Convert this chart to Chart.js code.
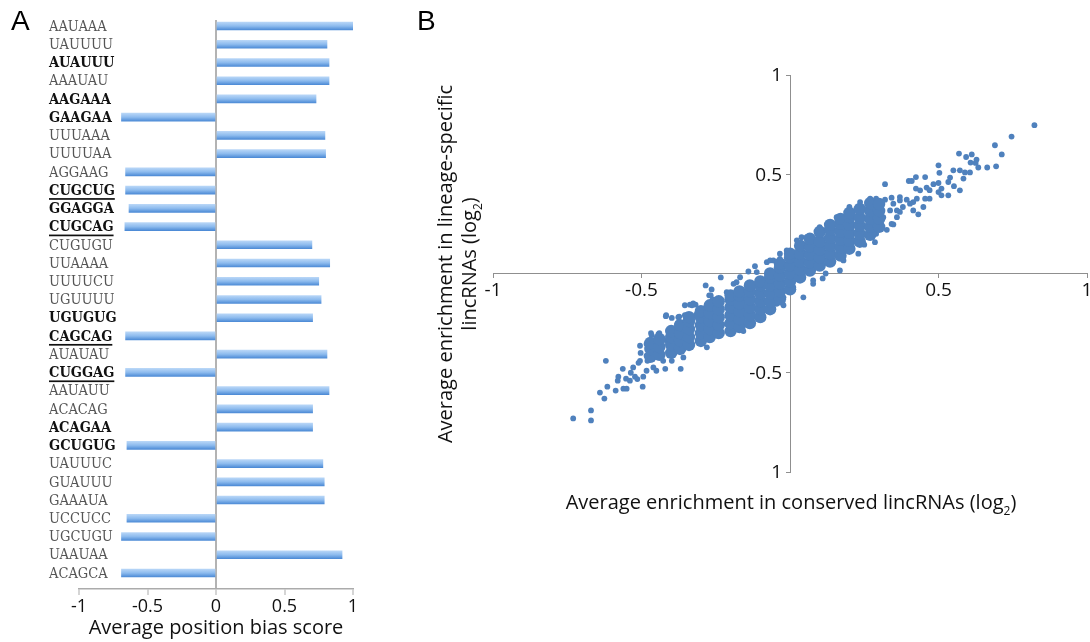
<!DOCTYPE html>
<html lang="en">
<head>
<meta charset="utf-8">
<title>Motif position bias and lincRNA enrichment</title>
<script src="https://cdn.jsdelivr.net/npm/chart.js@4.4.1/dist/chart.umd.min.js"></script>
<style>
  html, body { margin: 0; padding: 0; background: #fff; overflow: hidden; }
  #page { position: relative; width: 1090px; height: 642px; overflow: hidden; }
  canvas { position: absolute; top: 0; }
  #biasChart { left: 0; }
  #enrichChart { left: 400px; }
  .tag { position: absolute; top: 6px; font: 28px "Liberation Sans", Arial, sans-serif; line-height: 30px; color: #000; }
</style>
</head>
<body>
<div id="page">
  <canvas id="biasChart" width="390" height="642"></canvas>
  <canvas id="enrichChart" width="700" height="642"></canvas>
  <div class="tag" style="left: 11px;">A</div>
  <div class="tag" style="left: 417px;">B</div>
</div>
<script>
// Panel A: average position bias per hexamer motif (top to bottom)
const motifs = [
  'AAUAAA', 'UAUUUU', 'AUAUUU', 'AAAUAU', 'AAGAAA', 'GAAGAA', 'UUUAAA', 'UUUUAA',
  'AGGAAG', 'CUGCUG', 'GGAGGA', 'CUGCAG', 'CUGUGU', 'UUAAAA', 'UUUUCU', 'UGUUUU',
  'UGUGUG', 'CAGCAG', 'AUAUAU', 'CUGGAG', 'AAUAUU', 'ACACAG', 'ACAGAA', 'GCUGUG',
  'UAUUUC', 'GUAUUU', 'GAAAUA', 'UCCUCC', 'UGCUGU', 'UAAUAA', 'ACAGCA',
];
const biasScores = [
  1.03, 0.81, 0.825, 0.825, 0.73, -0.69, 0.795, 0.80,
  -0.66, -0.66, -0.635, -0.665, 0.70, 0.83, 0.75, 0.767,
  0.705, -0.66, 0.81, -0.66, 0.825, 0.705, 0.705, -0.65,
  0.78, 0.79, 0.79, -0.65, -0.69, 0.92, -0.69,
];
const boldMotifs = ['AUAUUU', 'AAGAAA', 'GAAGAA', 'CUGCUG', 'GGAGGA', 'CUGCAG', 'UGUGUG', 'CAGCAG', 'CUGGAG', 'ACAGAA', 'GCUGUG'];
const underlinedMotifs = ['CUGCUG', 'CUGCAG', 'CAGCAG', 'CUGGAG'];
const biasTicks = [-1, -0.5, 0, 0.5, 1];
const biasTickLabels = ['-1', '-0.5', '0', '0.5', '1'];

// Panel B: conserved (x) vs lineage-specific (y) enrichment, log2
const enrichTicks = [-1, -0.5, 0, 0.5, 1];
const conservedTickLabels = ['-1', '-0.5', '', '0.5', '1'];
const lineageTickLabels = ['1', '-0.5', '', '0.5', '1'];

// dense middle of the cloud
const coreCloud = [
  [-0.47, -0.42], [-0.47, -0.38], [-0.47, -0.35],
  [-0.44, -0.41], [-0.44, -0.37], [-0.44, -0.33],
  [-0.40, -0.40], [-0.40, -0.36], [-0.40, -0.32], [-0.40, -0.29],
  [-0.37, -0.38], [-0.37, -0.34], [-0.37, -0.30], [-0.37, -0.26],
  [-0.34, -0.36], [-0.34, -0.32], [-0.34, -0.28], [-0.34, -0.24], [-0.34, -0.22],
  [-0.30, -0.34], [-0.30, -0.30], [-0.30, -0.26], [-0.30, -0.22], [-0.30, -0.19],
  [-0.27, -0.32], [-0.27, -0.28], [-0.27, -0.24], [-0.27, -0.20], [-0.27, -0.16],
  [-0.24, -0.30], [-0.24, -0.26], [-0.24, -0.22], [-0.24, -0.18], [-0.24, -0.14],
  [-0.20, -0.29], [-0.20, -0.25], [-0.20, -0.21], [-0.20, -0.17], [-0.20, -0.13], [-0.20, -0.11],
  [-0.17, -0.27], [-0.17, -0.23], [-0.17, -0.19], [-0.17, -0.15], [-0.17, -0.11], [-0.17, -0.09],
  [-0.135, -0.25], [-0.135, -0.21], [-0.135, -0.17], [-0.135, -0.13], [-0.135, -0.09], [-0.135, -0.06],
  [-0.10, -0.22], [-0.10, -0.18], [-0.10, -0.14], [-0.10, -0.10], [-0.10, -0.06], [-0.10, -0.04],
  [-0.067, -0.18], [-0.067, -0.14], [-0.067, -0.10], [-0.067, -0.06], [-0.067, -0.02], [-0.067, 0.0],
  [-0.034, -0.13], [-0.034, -0.09], [-0.034, -0.05], [-0.034, -0.01], [-0.034, 0.03], [-0.034, 0.05],
  [0, -0.08], [0, -0.04], [0, 0.0], [0, 0.04], [0, 0.08], [0, 0.10],
  [0.034, -0.02], [0.034, 0.02], [0.034, 0.06], [0.034, 0.10], [0.034, 0.14],
  [0.067, 0.015], [0.067, 0.055], [0.067, 0.095], [0.067, 0.135], [0.067, 0.175],
  [0.10, 0.04], [0.10, 0.08], [0.10, 0.12], [0.10, 0.16], [0.10, 0.21],
  [0.135, 0.06], [0.135, 0.10], [0.135, 0.14], [0.135, 0.18], [0.135, 0.22], [0.135, 0.245],
  [0.17, 0.09], [0.17, 0.13], [0.17, 0.17], [0.17, 0.21], [0.17, 0.25], [0.17, 0.275],
  [0.20, 0.125], [0.20, 0.165], [0.20, 0.205], [0.20, 0.245], [0.20, 0.285], [0.20, 0.305],
  [0.235, 0.16], [0.235, 0.20], [0.235, 0.24], [0.235, 0.28], [0.235, 0.325],
  [0.27, 0.195], [0.27, 0.235], [0.27, 0.275], [0.27, 0.315], [0.27, 0.355],
  [0.30, 0.235], [0.30, 0.275], [0.30, 0.315], [0.30, 0.35],
];

// scattered points around the edges and in both tails
const sparseCloud = [
  [-0.73, -0.73], [-0.67, -0.74], [-0.67, -0.69], [-0.64, -0.60], [-0.625, -0.63], [-0.62, -0.44],
  [-0.615, -0.57], [-0.587, -0.59], [-0.58, -0.54], [-0.578, -0.52], [-0.563, -0.48], [-0.561, -0.58],
  [-0.55, -0.58], [-0.552, -0.53], [-0.536, -0.50], [-0.522, -0.52], [-0.51, -0.45], [-0.503, -0.40],
  [-0.496, -0.57], [-0.494, -0.52], [-0.48, -0.44], [-0.47, -0.39], [-0.468, -0.30], [-0.45, -0.49],
  [-0.44, -0.30], [-0.42, -0.48], [-0.417, -0.21], [-0.378, -0.25], [-0.376, -0.22], [-0.368, -0.48],
  [-0.354, -0.16], [-0.354, -0.21], [-0.337, -0.157], [-0.318, -0.157], [-0.284, -0.06], [-0.272, -0.11],
  [-0.233, -0.02], [-0.264, -0.08], [-0.267, -0.11], [-0.26, -0.13], [-0.33, -0.16], [-0.418, -0.215],
  [-0.373, -0.217], [-0.466, -0.31], [-0.14, 0.01], [-0.118, 0.037], [-0.078, 0.057], [-0.056, 0.066],
  [0.039, 0.183], [-0.18, -0.044], [-0.157, -0.29], [-0.112, -0.22], [-0.022, -0.16], [0.011, -0.08],
  [-0.326, -0.15], [-0.28, -0.187], [-0.398, -0.224], [-0.443, -0.305], [-0.483, -0.355], [-0.213, -0.094],
  [-0.19, -0.052], [-0.168, -0.019], [-0.112, 0.007], [-0.034, 0.074], [-0.011, 0.116], [0.023, 0.167],
  [-0.247, -0.288], [-0.213, -0.254], [-0.078, -0.187], [-0.045, -0.153], [-0.022, -0.12], [-0.28, -0.372],
  [-0.37, -0.38],
  [0.32, 0.45], [0.40, 0.466], [0.23, 0.10], [0.25, 0.145], [0.286, 0.158], [0.326, 0.22],
  [0.348, 0.247], [0.078, -0.052], [0.12, 0.0], [0.11, -0.025],
  [-0.067, 0.066], [-0.034, 0.10], [0.056, 0.183], [0.10, 0.234], [0.157, 0.284], [0.20, 0.335],
  [0.236, 0.36], [0.27, 0.377], [0.29, 0.377], [0.348, 0.352], [0.37, 0.368], [0.18, 0.066],
  [0.168, 0.015], [0.078, -0.035], [0.011, -0.069], [0.045, -0.12], [0.29, 0.20], [0.236, 0.15],
  [0.20, 0.116], [0.36, 0.284], [0.37, 0.31],
  [0.823, 0.747], [0.746, 0.69], [0.69, 0.646], [0.713, 0.60], [0.694, 0.54], [0.664, 0.534],
  [0.634, 0.534], [0.625, 0.557], [0.628, 0.574], [0.612, 0.60], [0.593, 0.587], [0.608, 0.559],
  [0.606, 0.509], [0.589, 0.509], [0.569, 0.604], [0.572, 0.52], [0.55, 0.52], [0.584, 0.478],
  [0.572, 0.419], [0.552, 0.44], [0.539, 0.483], [0.533, 0.461], [0.50, 0.545], [0.503, 0.507],
  [0.50, 0.456], [0.51, 0.428], [0.50, 0.41], [0.483, 0.45], [0.46, 0.433], [0.47, 0.42],
  [0.455, 0.486], [0.424, 0.486], [0.41, 0.466], [0.424, 0.428], [0.438, 0.419], [0.533, 0.394],
  [0.51, 0.394], [0.47, 0.377], [0.455, 0.377], [0.427, 0.377], [0.415, 0.36], [0.449, 0.335],
  [0.432, 0.298], [0.415, 0.318], [0.37, 0.385], [0.342, 0.382], [0.32, 0.372], [0.393, 0.372],
  [0.404, 0.352], [0.38, 0.335], [0.36, 0.318], [0.337, 0.318], [0.342, 0.25], [0.314, 0.284],
  [-0.528, -0.473], [-0.505, -0.44], [-0.483, -0.414], [-0.46, -0.42], [-0.449, -0.389], [-0.432, -0.347],
  [-0.415, -0.338], [-0.404, -0.372], [-0.427, -0.44], [-0.398, -0.44], [-0.46, -0.473], [-0.483, -0.49],
  [-0.514, -0.532], [-0.539, -0.54], [-0.505, -0.364], [-0.47, -0.338], [-0.365, -0.305], [-0.337, -0.237],
  [-0.314, -0.204], [-0.297, -0.195], [-0.359, -0.423], [-0.337, -0.372], [-0.303, -0.338],
];

const SANS = '"Open Sans", "Noto Sans", sans-serif';
const MOTIF_FONT = '14.5px "DejaVu Serif Condensed", "DejaVu Serif", serif';
const POINT_BLUE = '#4f81bd';
const MOTIF_RANGE = { min: -0.33, max: 30.88 };

document.addEventListener('DOMContentLoaded', () => {
  initBiasChart();
  initEnrichmentChart();
});

function barGradient(c) {
  const yScale = c.chart.scales.y;
  if (!yScale || c.type !== 'data') return '#86b5ea';
  const py = yScale.getPixelForValue(c.dataIndex);
  if (!Number.isFinite(py)) return '#86b5ea';
  const g = c.chart.ctx.createLinearGradient(0, py - 4, 0, py + 4);
  g.addColorStop(0, '#b8d6f7');
  g.addColorStop(0.5, '#8dbbee');
  g.addColorStop(1, '#4d8bd6');
  return g;
}

const motifLabels = {
  id: 'motifLabels',
  afterDraw(chart) {
    const { ctx, scales: { y } } = chart;
    ctx.save();
    ctx.textAlign = 'left';
    ctx.textBaseline = 'middle';
    motifs.forEach((m, i) => {
      const py = y.getPixelForValue(i);
      const bold = boldMotifs.includes(m);
      ctx.font = (bold ? 'bold ' : '') + MOTIF_FONT;
      ctx.fillStyle = bold ? '#111' : '#555';
      ctx.fillText(m, 49, py + 1);
      if (underlinedMotifs.includes(m)) {
        ctx.fillRect(49, py + 8, ctx.measureText(m).width, 1.7);
      }
    });
    ctx.restore();
  },
};

function initBiasChart() {
  const canvas = document.getElementById('biasChart');
  new Chart(canvas, {
    type: 'bar',
    data: {
      datasets: [{
        data: biasScores.map((v, i) => ({ x: v, y: i })),
        backgroundColor: barGradient,
        barThickness: 8,
        borderWidth: 0,
      }],
    },
    options: {
      indexAxis: 'y',
      responsive: false,
      animation: false,
      events: [],
      layout: { padding: { left: 79, right: 37, top: 20, bottom: 0 } },
      plugins: { legend: { display: false }, tooltip: { enabled: false } },
      scales: {
        y: {
          type: 'linear',
          reverse: true,
          offset: false,
          display: false,
          min: MOTIF_RANGE.min,
          max: MOTIF_RANGE.max,
          afterBuildTicks: (s) => { s.min = MOTIF_RANGE.min; s.max = MOTIF_RANGE.max; },
        },
        x: {
          type: 'linear',
          min: -1,
          max: 1,
          afterBuildTicks: (s) => { s.ticks = biasTicks.map((value) => ({ value })); },
          afterFit: (s) => { s.height = 53; },
          ticks: {
            callback: (v, i) => biasTickLabels[i],
            font: { family: SANS, size: 18 },
            color: '#111',
            padding: 1,
            maxRotation: 0,
          },
          grid: {
            color: (c) => (c.tick && c.tick.value === 0 ? '#b3b3b3' : 'rgba(0,0,0,0)'),
            lineWidth: 2,
            tickColor: '#ababab',
            tickWidth: 1,
            tickLength: 6,
          },
          border: { color: '#ababab', width: 1.5 },
          title: {
            display: true,
            text: 'Average position bias score',
            font: { family: SANS, size: 20 },
            color: '#111',
            padding: { top: 0, bottom: 2 },
          },
        },
      },
    },
    plugins: [motifLabels],
  });
}

function drawSubscripted(ctx, parts, size, cx, baseline) {
  const mainFont = size + 'px ' + SANS;
  const subFont = Math.round(size * 0.62) + 'px ' + SANS;
  const widths = parts.map((p) => {
    ctx.font = p.sub ? subFont : mainFont;
    return ctx.measureText(p.text).width;
  });
  let x = cx - widths.reduce((a, b) => a + b, 0) / 2;
  ctx.textAlign = 'left';
  ctx.textBaseline = 'alphabetic';
  parts.forEach((p, i) => {
    ctx.font = p.sub ? subFont : mainFont;
    ctx.fillText(p.text, x, p.sub ? baseline + size * 0.28 : baseline);
    x += widths[i];
  });
}

const enrichmentText = {
  id: 'enrichmentText',
  afterDraw(chart) {
    const { ctx, scales: { x, y } } = chart;
    const x0 = x.getPixelForValue(0);
    ctx.save();
    ctx.fillStyle = '#111';
    ctx.font = '19px ' + SANS;
    ctx.textAlign = 'right';
    ctx.textBaseline = 'middle';
    enrichTicks.forEach((v, i) => {
      if (lineageTickLabels[i]) ctx.fillText(lineageTickLabels[i], x0 - 8, y.getPixelForValue(v) + 1);
    });

    drawSubscripted(ctx, [
      { text: 'Average enrichment in conserved lincRNAs (log' },
      { text: '2', sub: true },
      { text: ')' },
    ], 20, 391, 509);

    ctx.translate(52, 264);
    ctx.rotate(-Math.PI / 2);
    drawSubscripted(ctx, [{ text: 'Average enrichment in lineage-specific' }], 20, 0, 0);
    drawSubscripted(ctx, [
      { text: 'lincRNAs (log' },
      { text: '2', sub: true },
      { text: ')' },
    ], 20, 0, 24);
    ctx.restore();
  },
};

function initEnrichmentChart() {
  const canvas = document.getElementById('enrichChart');
  const axisGray = '#8f8f8f';
  new Chart(canvas, {
    type: 'scatter',
    data: {
      datasets: [
        {
          data: coreCloud.map(([x, y]) => ({ x, y })),
          pointRadius: 6.2,
          backgroundColor: POINT_BLUE,
          borderWidth: 0,
        },
        {
          data: sparseCloud.map(([x, y]) => ({ x, y })),
          pointRadius: 2.9,
          backgroundColor: POINT_BLUE,
          borderWidth: 0,
        },
      ],
    },
    options: {
      responsive: false,
      animation: false,
      events: [],
      layout: { padding: { left: 93, right: 13, top: 75, bottom: 170 } },
      plugins: { legend: { display: false }, tooltip: { enabled: false } },
      scales: {
        x: {
          type: 'linear',
          min: -1,
          max: 1,
          position: { y: 0 },
          afterBuildTicks: (s) => { s.ticks = enrichTicks.map((value) => ({ value })); },
          ticks: {
            callback: (v, i) => conservedTickLabels[i],
            font: { family: SANS, size: 19 },
            color: '#111',
            padding: 2,
            maxRotation: 0,
          },
          grid: { drawOnChartArea: false, color: axisGray, tickLength: 4 },
          border: { color: axisGray, width: 1 },
        },
        y: {
          type: 'linear',
          min: -1,
          max: 1,
          position: { x: 0 },
          afterBuildTicks: (s) => { s.ticks = enrichTicks.map((value) => ({ value })); },
          ticks: { display: false },
          grid: { drawOnChartArea: false, color: axisGray, tickLength: 4 },
          border: { color: axisGray, width: 1 },
        },
      },
    },
    plugins: [enrichmentText],
  });
}
</script>
</body>
</html>
